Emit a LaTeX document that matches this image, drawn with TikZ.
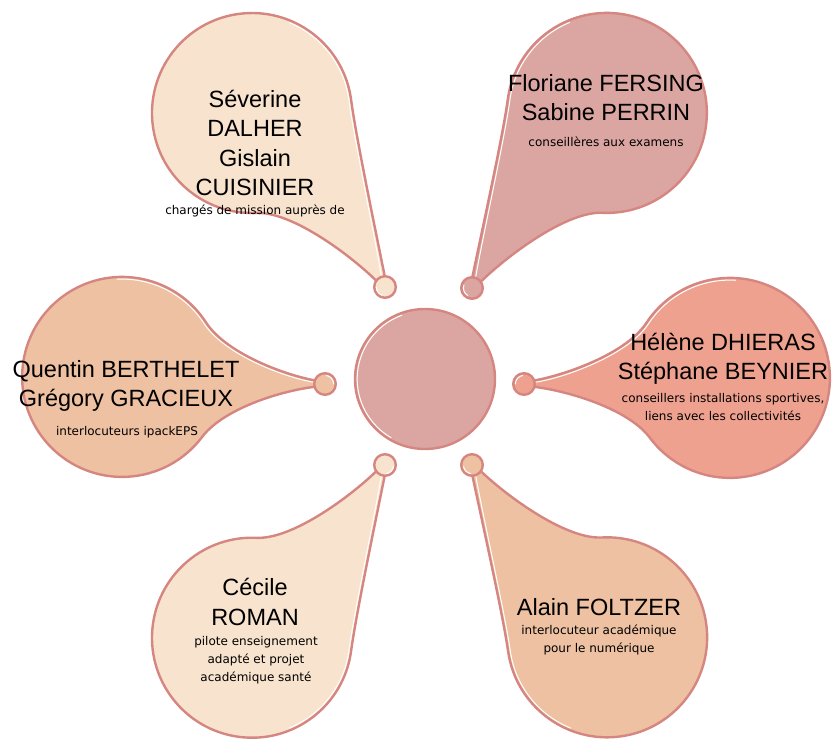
\documentclass[tikz,border=0pt]{standalone}
\usepackage{fontspec}
\setmainfont{Liberation Sans}
\newfontfamily\rolefont{DejaVu Sans}
\definecolor{rosedge}{RGB}{214,134,128}
\definecolor{peach}{RGB}{248,228,206}
\definecolor{rose}{RGB}{219,166,162}
\definecolor{salmon}{RGB}{239,161,143}
\definecolor{apricot}{RGB}{238,193,162}
\tikzset{
  petal/.style={draw=rosedge, line width=2.4pt, line join=round},
  shine/.style={draw=white, line width=1pt, line cap=round},
  dot/.style={petal, circle, minimum size=21.6pt, inner sep=0pt},
  who/.style={font=\fontsize{23.5}{29.5}\selectfont, align=center, inner sep=0pt},
  task/.style={font=\rolefont\fontsize{12}{18}\selectfont, align=center, inner sep=0pt},
}
% tip, turn, length, fill, flip, side angle, bend
\newcommand{\drop}[7]{%
  \begin{scope}[shift={#1}, rotate=#2, yscale=#5]
    \draw[petal, fill=#4] (0,-2)
      .. controls (30,-#7) and ({#3+100*cos(#6)+40*sin(#6)},{100*sin(#6)-40*cos(#6)})
      .. ({#3+100*cos(#6)},{100*sin(#6)})
      arc[start angle=#6, end angle=145, radius=100]
      .. controls ({#3+100*cos(145)-40*sin(145)},{100*sin(145)+40*cos(145)}) and (30,4)
      .. (0,2) -- cycle;
    \draw[shine] (6,-1)
      .. controls (30,{2.2-#7}) and ({#3+97.8*cos(#6)+40*sin(#6)},{97.8*sin(#6)-40*cos(#6)})
      .. ({#3+97.8*cos(#6)},{97.8*sin(#6)})
      arc[start angle=#6, delta angle=60, radius=97.8];
  \end{scope}}
\begin{document}
\begin{tikzpicture}[x=1pt, y=1pt]
      \useasboundingbox (0,0) rectangle (834,741);
      %
      \drop{(385,454)}{127.4}{219}{peach}{1}{-120}{17}     % top left
      \drop{(472,453)}{52.4}{221}{rose}{-1}{-120}{17}      % top right
      \drop{(524,357)}{1.7}{206}{salmon}{-1}{-145}{4}      % right
      \drop{(325,357)}{178}{203}{apricot}{1}{-145}{4}      % left
      \drop{(385,276)}{-127.6}{218}{peach}{-1}{-120}{17}   % bottom left
      \drop{(472,276)}{-51.9}{219}{apricot}{1}{-120}{17}   % bottom right
      %
      \node[dot, fill=peach]   (tldot) at (385,454) {};    % small circles
      \node[dot, fill=rose]    (trdot) at (472,453) {};
      \node[dot, fill=salmon]  (rdot)  at (524,357) {};
      \node[dot, fill=apricot] (ldot)  at (325,357) {};
      \node[dot, fill=peach]   (bldot) at (385,276) {};
      \node[dot, fill=apricot] (brdot) at (472,276) {};
      \draw[shine] ([shift={(180:8.6)}]tldot.center) arc[start angle=180, delta angle=70, radius=8.6];
      \draw[shine] ([shift={(160:8.6)}]trdot.center) arc[start angle=160, delta angle=80, radius=8.6];
      \draw[shine] ([shift={(100:8.6)}]rdot.center)  arc[start angle=100, delta angle=80, radius=8.6];
      \draw[shine] ([shift={(0:8.6)}]ldot.center)    arc[start angle=0, delta angle=80, radius=8.6];
      \draw[shine] ([shift={(280:8.6)}]bldot.center) arc[start angle=280, delta angle=70, radius=8.6];
      \draw[shine] ([shift={(190:8.6)}]brdot.center) arc[start angle=190, delta angle=70, radius=8.6];
      %
      \node[petal, circle, fill=rose, minimum size=140pt, inner sep=0pt] (hub) at (425,362) {}; % centre
      \draw[shine] ([shift={(110:67.8)}]hub.center) arc[start angle=110, delta angle=130, radius=67.8];
      %
      \node[who] (tlname) at (255,598) {Séverine\\DALHER\\Gislain\\CUISINIER}; % top left
      \node[task] (tlrole) at (255,530) {chargés de mission auprès de};
      %%
      \node[who] (trname) at (606,643.5) {Floriane FERSING\\Sabine PERRIN}; % top right
      \node[task] (trrole) at (606,599) {conseillères aux examens};
      %%
      \node[who] (rname) at (723,382) {Hélène DHIERAS\\Stéphane BEYNIER}; % right
      \node[task] (rrole) at (723,333.5) {conseillers installations sportives,\\liens avec les collectivités};
      %%
      \node[who] (lname) at (126,355) {Quentin BERTHELET\\Grégory GRACIEUX}; % left
      \node[task] (lrole) at (127,309) {interlocuteurs ipackEPS};
      %%
      \node[who] (blname) at (255,139) {Cécile\\ROMAN}; % bottom left
      \node[task] (blrole) at (256,81) {pilote enseignement\\adapté et projet\\académique santé};
      %%
      \node[who] (brname) at (599,134) {Alain FOLTZER}; % bottom right
      \node[task] (brrole) at (599,101) {interlocuteur académique\\pour le numérique};
      %
    \end{tikzpicture}
\end{document}
